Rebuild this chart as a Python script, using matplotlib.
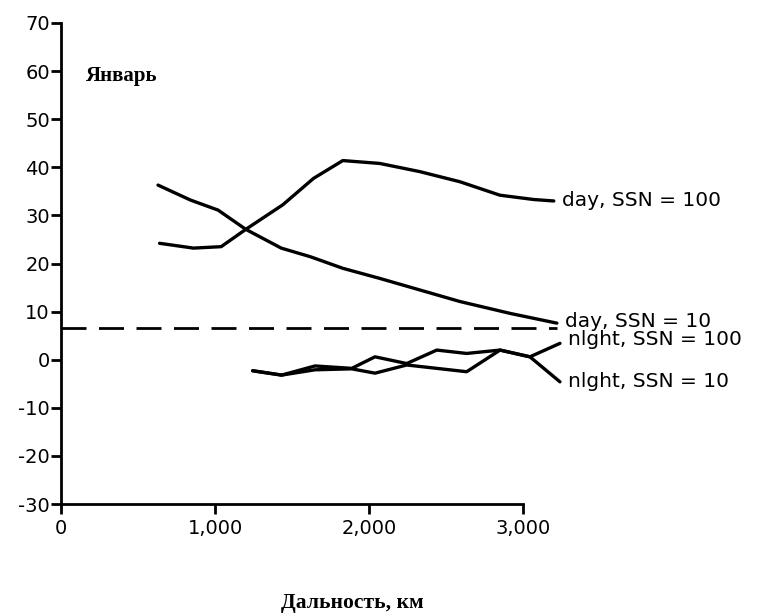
import matplotlib
matplotlib.use('Agg')
import matplotlib.pyplot as plt

# January propagation curves vs range
day100_x = [640, 860, 1040, 1200, 1440, 1640, 1830, 2070, 2330, 2590, 2850, 3070, 3200]
day100_y = [24.2, 23.2, 23.5, 27.1, 32.2, 37.7, 41.4, 40.8, 39.1, 37.0, 34.2, 33.3, 33.0]

day10_x = [630, 840, 1020, 1200, 1430, 1620, 1830, 2070, 2330, 2590, 2920, 3220]
day10_y = [36.3, 33.2, 31.1, 27.1, 23.2, 21.4, 19.0, 16.9, 14.5, 12.1, 9.6, 7.6]

night_x = [1245, 1433, 1649, 1888, 2039, 2245, 2440, 2634, 2851, 3045, 3240]
night100_y = [-2.3, -3.2, -1.3, -1.8, 0.6, -0.8, 2.0, 1.3, 2.0, 0.6, 3.4]
night10_y = [-2.3, -3.2, -2.1, -1.9, -2.8, -1.1, -1.8, -2.5, 2.0, 0.6, -4.6]

dash_level = 6.5
dash_end = 3220

labels = ['day, SSN = 100', 'day, SSN = 10', 'nlght, SSN = 100', 'nlght, SSN = 10']
label_dy = [0, 1, 3, 0]

yticks = [-30, -20, -10, 0, 10, 20, 30, 40, 50, 60, 70]
xticks = [0, 1000, 2000, 3000]
xticklabels = ['0', '1,000', '2,000', '3,000']

plt.rcParams['font.family'] = ['DejaVu Sans']
plt.rcParams['axes.unicode_minus'] = False

fig = plt.figure(figsize=(7.6, 6.14), dpi=100)
ax = fig.add_axes([61/760, 110/614, 462/760, 481/614])

lw = 2.4
series = [(day100_x, day100_y), (day10_x, day10_y),
          (night_x, night100_y), (night_x, night10_y)]
for (xs, ys), lab, dy in zip(series, labels, label_dy):
    ax.plot(xs, ys, color='black', lw=lw, clip_on=False, solid_capstyle='round')
    ax.annotate(lab, xy=(xs[-1], ys[-1]), xytext=(6, dy), textcoords='offset points',
                va='center', ha='left', fontsize=14.5, color='black', annotation_clip=False)

ax.plot([0, dash_end], [dash_level, dash_level], color='black', lw=2,
        dashes=(9, 4.5), clip_on=False)

ax.set_xlim(0, 3000)
ax.set_ylim(-30, 70)
ax.set_yticks(yticks)
ax.set_xticks(xticks)
ax.set_xticklabels(xticklabels)
ax.tick_params(axis='both', direction='out', length=7, width=2, labelsize=14, pad=1)
ax.tick_params(axis='x', pad=4)
for s in ['top', 'right']:
    ax.spines[s].set_visible(False)
for s in ['left', 'bottom']:
    ax.spines[s].set_linewidth(2)

ax.text(165, 59, 'Январь', family='Liberation Serif', fontweight='bold', fontsize=15,
        va='center', ha='left')
fig.text(352/760, 1 - 603/614, 'Дальность, км', family='Liberation Serif',
         fontweight='bold', fontsize=15.5, ha='center', va='center')

fig.savefig('out.png', dpi=100, facecolor='white')
